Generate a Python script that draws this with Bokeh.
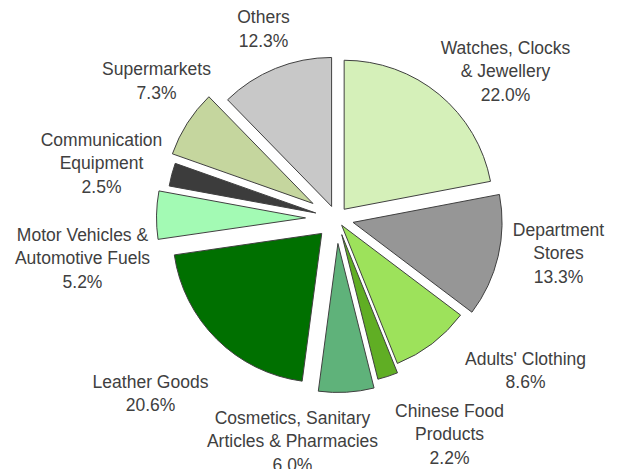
import numpy as np
from bokeh.plotting import figure
from bokeh.models import ColumnDataSource
from bokeh.core.properties import value
from bokeh.embed import file_html
from bokeh.resources import INLINE

# ---- data (clockwise from 12 o'clock) ----
categories = [
    "Watches, Clocks\n& Jewellery",
    "Department\nStores",
    "Adults' Clothing",
    "Chinese Food\nProducts",
    "Cosmetics, Sanitary\nArticles & Pharmacies",
    "Leather Goods",
    "Motor Vehicles &\nAutomotive Fuels",
    "Communication\nEquipment",
    "Supermarkets",
    "Others",
]
shares = [22.0, 13.3, 8.6, 2.2, 6.0, 20.6, 5.2, 2.5, 7.3, 12.3]

# ---- styling ----
colors = ["#D5F0B9", "#969696", "#9DE25B", "#60AE24", "#5FB27A",
          "#007000", "#A3FAB4", "#3C3C3C", "#C5D69E", "#C8C8C8"]
explode = [12, 17, 8.5, 17, 25, 21, 31, 21.5, 28, 13]          # px, radial offset
label_dx = [169, 222, 189, 113, -44, -186, -254, -235, -180, -73]  # px from pie centre
label_dy = [147, -35, -152, -216, -223, -175, -40, 55, 137.5, 189.5]

W, H = 620, 469
cx, cy, R = 336, 251, 149

frac = np.array(shares) / np.sum(shares)
ends = np.cumsum(frac) * 2 * np.pi
starts = ends - frac * 2 * np.pi
mids = (starts + ends) / 2
ex = np.array(explode)

src = ColumnDataSource(dict(
    x=cx + ex * np.sin(mids),
    y=cy + ex * np.cos(mids),
    sa=np.pi / 2 - starts,
    ea=np.pi / 2 - ends,
    color=colors,
))

lab = ColumnDataSource(dict(
    x=cx + np.array(label_dx, dtype=float),
    y=cy + np.array(label_dy, dtype=float),
    text=[f"{c}\n{s:.1f}%" for c, s in zip(categories, shares)],
))

p = figure(width=W, height=H, x_range=(0, W), y_range=(0, H),
           output_backend="svg", toolbar_location=None, min_border=0,
           x_axis_location=None, y_axis_location=None,
           outline_line_color=None, background_fill_color="white")
p.grid.visible = False

p.wedge(x="x", y="y", radius=R, start_angle="sa", end_angle="ea",
        direction="clock", fill_color="color", line_color="#404040",
        line_width=1, source=src)

p.text(x="x", y="y", text="text", source=lab,
       text_font=value("Liberation Sans"), text_font_size="17.5px",
       text_color="#404040", text_align="center", text_baseline="middle",
       text_line_height=1.19)

open("out.html", "w").write(file_html(p, INLINE))
